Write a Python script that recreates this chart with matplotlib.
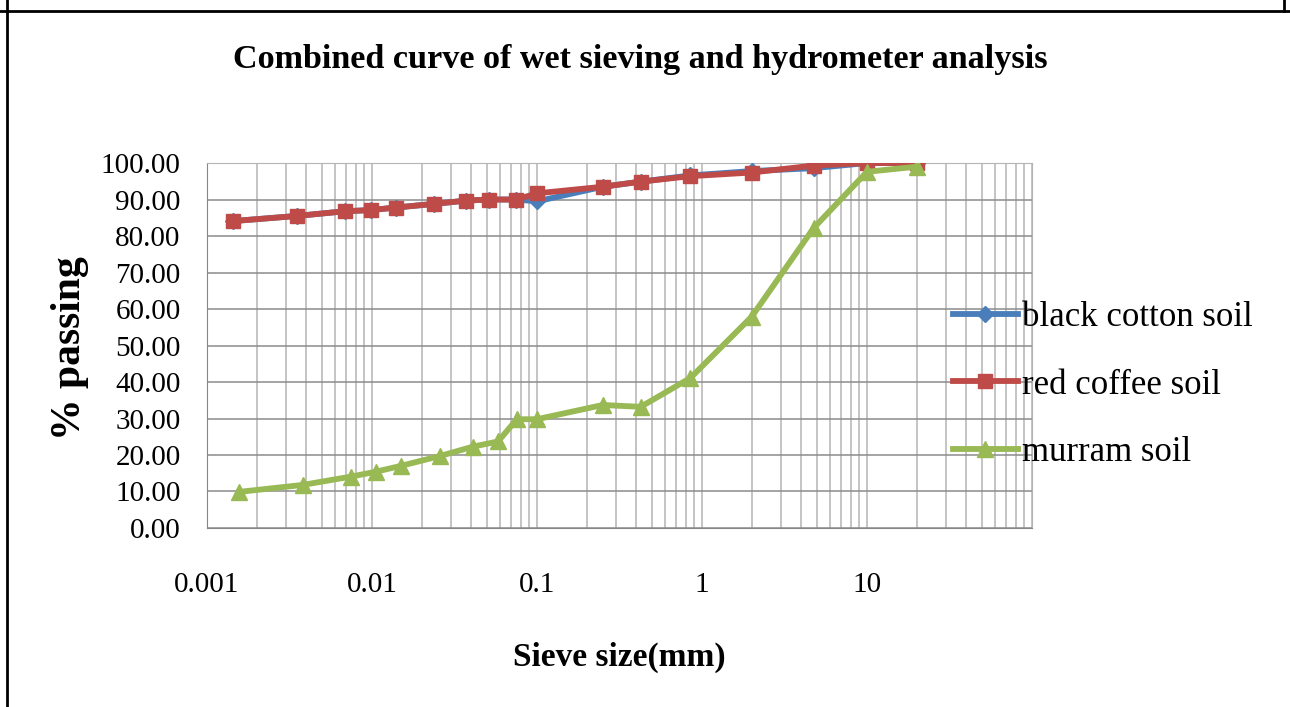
import matplotlib
matplotlib.use("Agg")
import matplotlib.pyplot as plt
from matplotlib.ticker import FixedLocator, NullFormatter
from matplotlib.lines import Line2D

# data (sieve size in mm, % passing)
sieve_bc = [0.00144, 0.0035, 0.0069, 0.0098, 0.0139, 0.0237, 0.037, 0.051, 0.075, 0.1,
            0.25, 0.425, 0.85, 2.0, 4.75, 10, 20]
black_cotton = [84.1, 85.5, 86.8, 87.1, 87.8, 88.8, 89.7, 90.0, 90.0, 89.5,
                93.5, 94.9, 96.6, 97.8, 98.6, 100, 100]
sieve_rc = [0.00144, 0.0035, 0.0069, 0.0098, 0.0139, 0.0237, 0.037, 0.051, 0.075, 0.1,
            0.25, 0.425, 0.85, 2.0, 4.75, 10, 20]
red_coffee = [84.1, 85.5, 86.8, 87.1, 87.8, 88.8, 89.7, 90.0, 90.0, 91.7,
              93.5, 94.9, 96.4, 97.4, 99.3, 100, 100]
sieve_mu = [0.00157, 0.0038, 0.0075, 0.0105, 0.0149, 0.0257, 0.041, 0.058, 0.0755, 0.1,
            0.25, 0.425, 0.85, 2.0, 4.75, 10, 20]
murram = [9.9, 11.8, 14.1, 15.4, 17.0, 19.7, 22.3, 23.7, 29.8, 29.8,
          33.7, 33.2, 41.1, 57.9, 82.2, 97.6, 99.0]

series_names = ["black cotton soil", "red coffee soil", "murram soil"]
x_ticks = [0.001, 0.01, 0.1, 1, 10, 100]
x_labels = ["0.001", "0.01", "0.1", "1", "10", ""]
y_ticks = list(range(0, 101, 10))
y_labels = ["%.2f" % v for v in y_ticks]

serif = ["Liberation Serif", "DejaVu Serif"]
plt.rcParams["font.family"] = serif

fig = plt.figure(figsize=(12.9, 7.07), dpi=100)
ax = fig.add_axes([0.1605, 0.2532, 0.6395, 0.5162])

colors = ["#4A7EBB", "#BE4B48", "#98B954"]
markers = ["D", "s", "^"]
msizes = [8, 10.5, 11.5]
data = [(sieve_bc, black_cotton), (sieve_rc, red_coffee), (sieve_mu, murram)]
for (xs, ys), c, m, ms, name in zip(data, colors, markers, msizes, series_names):
    ax.plot(xs, ys, color=c, lw=4.2, marker=m, ms=ms, mec=c, mfc=c,
            label=name, solid_joinstyle="round", zorder=3)

ax.set_xscale("log")
ax.set_xlim(0.001, 100)
ax.set_ylim(0, 100)
ax.xaxis.set_major_locator(FixedLocator(x_ticks))
ax.set_xticklabels(x_labels)
ax.xaxis.set_minor_locator(FixedLocator(
    [m * 10.0 ** e for e in range(-3, 2) for m in range(2, 10)]))
ax.xaxis.set_minor_formatter(NullFormatter())
ax.set_yticks(y_ticks)
ax.set_yticklabels(y_labels)

ax.grid(True, which="major", axis="y", color="#8C8C8C", lw=1.1)
ax.grid(True, which="both", axis="x", color="#B4B4B4", lw=1.1)
ax.tick_params(axis="both", which="both", length=0, labelsize=21)
ax.tick_params(axis="x", pad=32)
ax.tick_params(axis="y", pad=19)
for side in ["left", "bottom"]:
    ax.spines[side].set_color("#868686")
for side in ["top", "right"]:
    ax.spines[side].set_color("#B4B4B4")

ax.set_xlabel("Sieve size(mm)", fontsize=24, fontweight="bold")
ax.xaxis.set_label_coords(0.5, -0.312)
ax.set_ylabel("% passing", fontsize=30, fontweight="bold")
ax.yaxis.set_label_coords(-0.143, 0.494)
fig.text(0.496, 0.916, "Combined curve of wet sieving and hydrometer analysis",
         fontsize=24.6, fontweight="bold", ha="center", va="center")

leg = ax.legend(loc="center left", bbox_to_anchor=(0.739, 0.4554),
                bbox_transform=fig.transFigure, frameon=False, fontsize=25,
                handlelength=1.85, handletextpad=0.12, labelspacing=1.0,
                borderpad=0, borderaxespad=0)

# outer frame of the original sheet
fig.add_artist(Line2D([0, 1], [1 - 10.5 / 707] * 2, color="black", lw=2,
                      transform=fig.transFigure))
fig.add_artist(Line2D([7 / 1290] * 2, [0, 1], color="black", lw=2,
                      transform=fig.transFigure))
fig.add_artist(Line2D([1284 / 1290] * 2, [1 - 10.5 / 707, 1], color="black", lw=2,
                      transform=fig.transFigure))

fig.savefig("out.png", dpi=100)
